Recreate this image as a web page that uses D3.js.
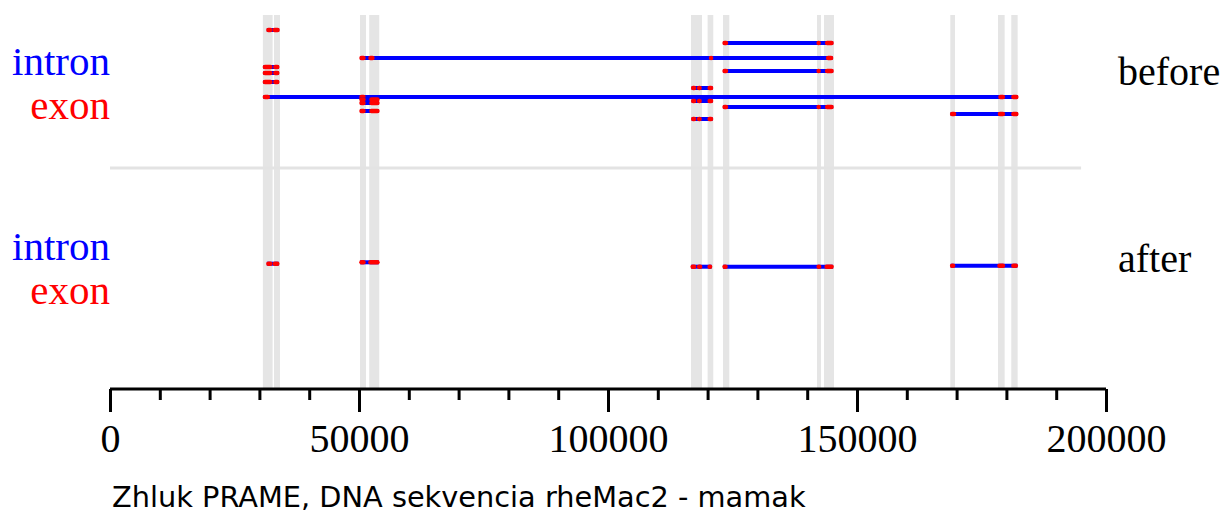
<!DOCTYPE html>
<html>
<head>
<meta charset="utf-8">
<script src="https://d3js.org/d3.v7.min.js"></script>
<style>
	body { margin: 0; background: #fff; }
	svg { display: block; }
</style>
</head>
<body>
<div id="chart"></div>
<script>

// exon regions shared by the cluster (grey columns), in bp
var bands = [
	[30700, 32650], [32930, 34140], [50200, 51400], [52050, 54060],
	[116670, 118870], [120000, 121140], [123090, 124360], [141970, 142770],
	[143370, 145380], [168740, 169680], [178310, 179650], [180980, 182260]
];

// transcripts before filtering: lane offset + exons (bp)
var before = [
	{ lane: 15, exons: [[31500, 32500], [32750, 33950]] },
	{ lane: 28, exons: [[123100, 124000], [142000, 142600], [143700, 145200]] },
	{ lane: 43, exons: [[50200, 51200], [52000, 53000], [120400, 121000], [143900, 145100]] },
	{ lane: 52, exons: [[30800, 32500], [32900, 33900]] },
	{ lane: 56, exons: [[123100, 124000], [142000, 142600], [143700, 145200]] },
	{ lane: 58, exons: [[30800, 32500], [32900, 33900]] },
	{ lane: 67, exons: [[30800, 32500], [32900, 33900]] },
	{ lane: 73, exons: [[116800, 117600], [118000, 118700], [120100, 121000]] },
	{ lane: 82, exons: [[30800, 32000], [50200, 51200], [178500, 179600], [181100, 182300]] },
	{ lane: 84.5, exons: [[50200, 51200], [52200, 54000]] },
	{ lane: 86, exons: [[116800, 117600], [118000, 118700], [120100, 121000]] },
	{ lane: 88, exons: [[50200, 51200], [52200, 54000]] },
	{ lane: 92, exons: [[123100, 124000], [142000, 142600], [143700, 145200]] },
	{ lane: 96, exons: [[50200, 51200], [52200, 54000]] },
	{ lane: 99, exons: [[168800, 169800], [178400, 179600], [181100, 182300]] },
	{ lane: 104, exons: [[116800, 117600], [118000, 118700], [120100, 121000]] }
];

// transcripts after filtering
var after = [
	{ lane: 63.7, exons: [[31500, 32500], [32800, 33900]] },
	{ lane: 62.3, exons: [[50200, 51200], [52000, 54000]] },
	{ lane: 66.7, exons: [[116700, 117600], [118000, 118800], [120100, 120800]] },
	{ lane: 66.7, exons: [[123100, 123900], [142000, 142700], [143600, 145200]] },
	{ lane: 65.7, exons: [[168800, 169600], [178300, 179600], [181100, 182200]] }
];

var panels = [
	{ name: "before", data: before },
	{ name: "after", data: after }
];

var majorTicks = [0, 50000, 100000, 150000, 200000];
var minorTicks = d3.range(10000, 200000, 10000);
var chartTitle = "Zhluk PRAME, DNA sekvencia rheMac2 - mamak";


function ClusterChart(parentElement, panels){
	var vis = this;
	vis.parentElement = parentElement;
	vis.panels = panels;
	vis.init();
};

ClusterChart.prototype.init = function() {
	var vis = this;
	vis.width = 1225;
	vis.height = 516;
	vis.axisY = 389;
	vis.panelTop = [15, 200];

	vis.svg = d3.select(vis.parentElement).append("svg")
		.attr("width", vis.width)
		.attr("height", vis.height);

	vis.x = d3.scaleLinear().domain([0, 200000]).range([110, 1106]);
	// lane offsets within one panel
	vis.lane = d3.scaleLinear().domain([0, 150]).range([0, 150]);

	vis.update();
};

ClusterChart.prototype.update = function() {
	var vis = this;

	// grey exon columns
	vis.svg.append("g").selectAll("rect")
		.data(bands).enter()
		.append("rect")
		.attr("x", function(d){ return vis.x(d[0]); })
		.attr("width", function(d){ return vis.x(d[1]) - vis.x(d[0]); })
		.attr("y", vis.panelTop[0])
		.attr("height", vis.axisY - vis.panelTop[0])
		.attr("fill", "#e5e5e5");

	// separator between panels
	vis.svg.append("line")
		.attr("x1", vis.x(0)).attr("x2", vis.x(195000))
		.attr("y1", 168).attr("y2", 168)
		.attr("stroke", "#e3e3e3")
		.attr("stroke-width", 3);

	vis.panels.forEach(function(p, i){
		var top = vis.panelTop[i];
		var g = vis.svg.append("g").attr("transform", "translate(0," + top + ")");

		g.append("text").text("intron")
			.attr("x", 110).attr("y", 60)
			.attr("text-anchor", "end")
			.attr("fill", "#0000ff")
			.style("font", "41px 'Liberation Serif', serif");
		g.append("text").text("exon")
			.attr("x", 110).attr("y", 104)
			.attr("text-anchor", "end")
			.attr("fill", "#ff0000")
			.style("font", "41px 'Liberation Serif', serif");
		g.append("text").text(p.name)
			.attr("x", 1118).attr("y", i == 0 ? 70 : 72)
			.attr("fill", "#000")
			.style("font", "40px 'Liberation Serif', serif");

		var tr = g.selectAll("g.tr").data(p.data).enter()
			.append("g").attr("class", "tr");

		tr.append("line")
			.attr("x1", function(d){ return vis.x(d.exons[0][0]); })
			.attr("x2", function(d){ return vis.x(d.exons[d.exons.length - 1][1]); })
			.attr("y1", function(d){ return vis.lane(d.lane); })
			.attr("y2", function(d){ return vis.lane(d.lane); })
			.attr("stroke", "#0000ff")
			.attr("stroke-width", 4);

		tr.selectAll("line.exon")
			.data(function(d){ return d.exons.map(function(e){ return { lane: d.lane, s: e[0], e: e[1] }; }); })
			.enter().append("line")
			.attr("class", "exon")
			.attr("x1", function(d){ return vis.x(d.s) + 1.5; })
			.attr("x2", function(d){ return vis.x(d.e) - 1.5; })
			.attr("y1", function(d){ return vis.lane(d.lane); })
			.attr("y2", function(d){ return vis.lane(d.lane); })
			.attr("stroke", "#ff0000")
			.attr("stroke-width", 4.5)
			.attr("stroke-linecap", "round");
	});

	// x axis with major and minor ticks
	var axisG = vis.svg.append("g")
		.attr("transform", "translate(0," + vis.axisY + ")");

	axisG.append("g")
		.call(d3.axisBottom(vis.x).tickValues(minorTicks).tickSize(11).tickFormat(""))
		.call(function(g){ g.select(".domain").remove(); })
		.selectAll("line").attr("stroke-width", 3);

	var major = axisG.append("g")
		.call(d3.axisBottom(vis.x).tickValues(majorTicks).tickSize(23).tickSizeOuter(0).tickFormat(d3.format("d")));
	major.select(".domain").attr("stroke-width", 3).attr("d", "M" + vis.x(0) + ",0H" + vis.x(200000));
	major.selectAll("line").attr("stroke-width", 3);
	major.selectAll("text")
		.attr("y", 63).attr("dy", null)
		.attr("fill", "#000")
		.style("font", "40px 'Liberation Serif', serif");

	vis.svg.append("text").text(chartTitle)
		.attr("x", 112).attr("y", 507)
		.attr("fill", "#000")
		.style("font", "28.8px 'DejaVu Sans', sans-serif");
};

var chart = new ClusterChart("#chart", panels);
</script>
</body>
</html>
